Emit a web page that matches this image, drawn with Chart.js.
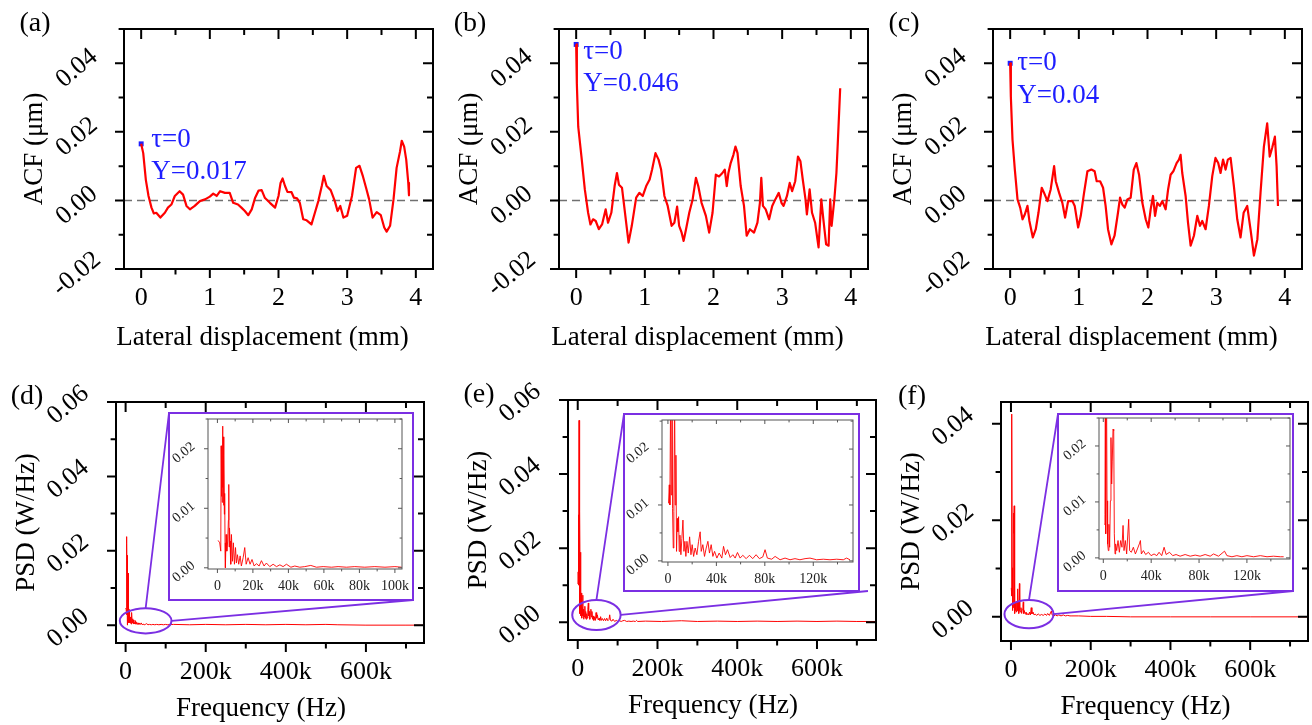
<!DOCTYPE html>
<html lang="en">
<head>
<meta charset="UTF-8">
<title>ACF and PSD of the surface profiles</title>
<script src="https://cdn.jsdelivr.net/npm/chart.js"></script>
<style>
  html, body { margin: 0; padding: 0; background: #fff; overflow: hidden; }
  #figure { position: relative; width: 1312px; height: 725px; }
  #figure canvas { position: absolute; }
  .zoombox { position: absolute; box-sizing: border-box; border: 2px solid #7b2fe3; background: #fff; }
</style>
</head>
<body>
<div id="figure"></div>
<script>
// ---- ACF curves (lateral displacement in mm, ACF in um) ----
const dispA = [0,0.03,0.068,0.107,0.15,0.185,0.22,0.28,0.345,0.39,0.44,0.49,0.56,0.61,0.66,0.71,0.78,0.855,0.93,1.0,1.05,1.1,1.15,1.22,1.29,1.34,1.41,1.46,1.51,1.56,1.61,1.66,1.71,1.755,1.8,1.875,1.95,2.0,2.03,2.06,2.095,2.13,2.19,2.225,2.27,2.31,2.36,2.41,2.48,2.53,2.58,2.63,2.66,2.7,2.76,2.82,2.86,2.9,2.945,3.0,3.07,3.13,3.18,3.23,3.275,3.32,3.37,3.43,3.49,3.54,3.575,3.625,3.675,3.72,3.77,3.795,3.83,3.86,3.89,3.9];
const acfA = [0.0165,0.0138,0.006,0.0013,-0.0021,-0.0038,-0.0036,-0.005,-0.0036,-0.0021,-0.0012,0.0013,0.0027,0.0017,-0.0016,-0.0026,-0.0016,-0.0002,0.0003,0.0011,0.002,0.0013,0.0027,0.0022,0.0022,-0.0007,-0.0012,-0.0021,-0.0031,-0.0043,-0.0026,0.0008,0.0029,0.003,0.0008,-0.0007,-0.0021,0.0013,0.0051,0.0064,0.0042,0.0025,0.0024,0.0008,0.0006,-0.0007,-0.0055,-0.0058,-0.007,-0.0036,-0.0002,0.0042,0.0072,0.0042,0.003,-0.0002,-0.0031,-0.0016,-0.005,-0.0045,0.0013,0.0095,0.0101,0.007,0.0037,0.0003,-0.005,-0.0034,-0.0043,-0.0079,-0.0091,-0.0074,0.0003,0.0095,0.0143,0.0174,0.0157,0.0119,0.0051,0.0015];

const dispB = [0,0.01,0.03,0.077,0.126,0.174,0.208,0.246,0.285,0.33,0.377,0.43,0.464,0.512,0.56,0.594,0.623,0.667,0.705,0.763,0.81,0.874,0.92,0.97,1.02,1.07,1.106,1.155,1.2,1.237,1.285,1.333,1.39,1.43,1.47,1.5,1.536,1.565,1.6,1.647,1.696,1.744,1.778,1.826,1.889,1.937,1.986,2.034,2.08,2.13,2.164,2.193,2.217,2.25,2.29,2.32,2.35,2.396,2.444,2.483,2.53,2.59,2.64,2.676,2.696,2.72,2.76,2.81,2.855,2.9,2.95,2.99,3.02,3.07,3.11,3.145,3.19,3.23,3.266,3.3,3.34,3.36,3.4,3.435,3.48,3.53,3.57,3.6,3.64,3.676,3.7,3.72,3.76,3.79,3.81,3.845];
const acfB = [0.0455,0.034,0.0215,0.0128,0.0032,-0.0036,-0.007,-0.0055,-0.006,-0.0084,-0.007,-0.0026,-0.0065,-0.0036,0.0042,0.008,0.0046,0.0037,-0.0026,-0.0123,-0.0074,0.0008,0.0022,0.0013,0.0042,0.0061,0.009,0.0138,0.0119,0.009,0.0013,-0.0016,-0.0074,-0.0065,-0.0018,-0.0074,-0.0094,-0.0118,-0.0084,-0.0036,0.0003,0.0066,0.0042,-0.0007,-0.0045,-0.0094,-0.0036,0.0075,0.007,0.008,0.009,0.0042,0.008,0.0109,0.0133,0.0157,0.0138,0.0042,-0.0016,-0.0103,-0.0084,-0.0094,-0.0065,-0.0007,0.0066,-0.0016,-0.0026,-0.0055,-0.0016,0.0003,0.0022,-0.0007,-0.0016,0.0013,0.0051,0.0027,0.0056,0.0128,0.0114,0.0061,0.0003,-0.0041,0.0032,-0.0036,-0.0065,-0.0137,0.0003,-0.0055,-0.0128,-0.0132,0.0003,-0.0074,0.0003,0.008,0.0167,0.0327];

const dispC = [0,0.01,0.034,0.068,0.107,0.146,0.18,0.213,0.252,0.28,0.33,0.373,0.412,0.46,0.494,0.543,0.59,0.64,0.664,0.713,0.76,0.8,0.844,0.907,0.94,0.99,1.028,1.076,1.125,1.183,1.23,1.26,1.31,1.353,1.39,1.425,1.474,1.52,1.57,1.6,1.634,1.668,1.707,1.755,1.8,1.838,1.877,1.925,1.974,2.012,2.046,2.08,2.11,2.143,2.18,2.216,2.264,2.3,2.337,2.376,2.424,2.458,2.482,2.506,2.555,2.59,2.628,2.676,2.725,2.764,2.797,2.846,2.894,2.943,2.99,3.03,3.064,3.1,3.137,3.17,3.21,3.258,3.307,3.355,3.4,3.452,3.5,3.55,3.6,3.646,3.695,3.743,3.78,3.815,3.855,3.88,3.9];
const acfC = [0.04,0.0302,0.0177,0.009,0.0003,-0.0021,-0.0055,-0.0041,-0.0016,-0.006,-0.0108,-0.0084,-0.0036,0.0037,0.0022,-0.0002,0.0032,0.01,0.0056,0.0022,-0.0007,-0.005,-0.0002,-0.0002,-0.0016,-0.0079,-0.0045,0.0022,0.0085,0.009,0.0085,0.0056,0.0056,0.0037,-0.0016,-0.0084,-0.0128,-0.0103,-0.0036,0.0008,-0.0012,-0.0021,0.0003,0.0008,0.009,0.0109,0.0075,-0.0007,-0.0055,-0.0079,-0.0026,0.0013,-0.0045,-0.0007,-0.0016,-0.0002,-0.0026,0.0032,0.0075,0.0085,0.0109,0.0119,0.0133,0.008,0.0013,-0.0065,-0.0132,-0.0103,-0.0045,-0.0074,-0.006,-0.0084,-0.0016,0.0071,0.0124,0.0109,0.008,0.0119,0.009,0.0119,0.0124,0.0042,-0.0055,-0.0108,-0.0036,-0.0016,-0.0084,-0.0161,-0.0113,0.0022,0.0157,0.0225,0.0128,0.0153,0.0186,0.01,-0.0016];

const peakLabels = [['τ=0', 'Y=0.017'], ['τ=0', 'Y=0.046'], ['τ=0', 'Y=0.04']];

// ---- PSD spectra (frequency in kHz, PSD in W/Hz) ----
const freqD = [0.4,1.3,1.9,2.1,2.3,2.5,2.7,2.9,3.1,3.3,3.5,3.7,3.9,4.1,4.3,4.5,4.9,5.3,5.8,6.2,6.4,6.6,6.8,7.1,7.5,7.9,8.5,9,9.6,10.2,10.7,11.3,12,12.8,13.5,14.5,15.4,16.2,17.3,18.4,19.5,20.7,22,23.5,24.8,26.3,27.6,29.5,31.4,33.3,35.2,37,38.9,41.4,43.6,46.4,49.2,52.6,55.8,59.6,64.3,68,72.7,77.4,83,88.7,94.4,100,103.8];
const psdD = [0.0046,0.0042,0.0028,0.0205,0.012,0.019,0.011,0.0238,0.0135,0.022,0.0105,0.0188,0.009,0.0125,0.0042,0,0.0056,0.0028,0.0045,0.008,0.014,0.0035,0.0067,0.0045,0.0006,0.0056,0.0011,0.0042,0.0006,0.0034,0.0008,0.0022,0.0006,0.002,0.0003,0.0017,0.0034,0.0006,0.0017,0.0006,0.0014,0.0003,0.0007,0.0003,0.0012,0.0003,0.0008,0.0002,0.0006,0.0002,0.0005,0.0002,0.0006,0.0001,0.0003,0.0001,0.0002,0.0004,0.0001,0.0002,0.0001,0.0002,0.0001,0.0002,0.0001,0.0002,0.0001,0.0002,0.0001];
const freqTailD = [120,160,200,250,300,350,400,450,500,530,600,700,745];
const psdTailD = [0.0002,0.0001,0.0002,0.0001,0.0002,0.0001,0.0002,0.0001,0.0002,0.0001,0,0,0];

const freqE = [0.5,1.1,1.6,2.2,2.7,3.3,3.8,4.4,4.9,5.5,6,6.6,7.1,7.7,8.2,8.8,9.3,9.9,10.7,11.5,12.4,13.2,14,14.8,15.7,16.8,17.9,19,20,21.2,22.5,23.9,25.3,26.6,27.5,28.8,30.2,31.6,33,34.3,35.7,37.1,38.5,40.4,42.3,44.5,45.9,47.5,49.2,51.4,53.6,55.5,57.4,59.6,61.8,64.6,67.3,70,72.8,75.5,78.3,80.2,82.1,85.7,88.5,92.6,96.7,100.8,104.9,109,113.2,117.3,122.8,128.3,133.8,139.3,144.8,147.5,150.3];
const psdE = [0.0103,0.0136,0.01,0.029,0.0118,0.0545,0.0094,0.0023,0.0088,0.03,0.01,0.0189,0.0017,0.0076,0.0052,0.0079,0.0017,0.0046,0.0011,0.004,0.0073,0.0017,0.0035,0.0008,0.0035,0.0014,0.0043,0.0011,0.0029,0.0008,0.0023,0.0011,0.0035,0.0052,0.0017,0.0029,0.0008,0.0023,0.0035,0.0014,0.0029,0.0008,0.0017,0.0005,0.0014,0.0005,0.0026,0.0011,0.002,0.0006,0.0011,0.0005,0.0015,0.0005,0.001,0.0004,0.001,0.0004,0.0011,0.0004,0.0007,0.002,0.0005,0.0003,0.0008,0.0002,0.0005,0.0002,0.0004,0.0002,0.0004,0.0005,0.0002,0.0003,0.0002,0.0003,0.0002,0.0005,0.0002];
const freqTailE = [170,210,260,300,350,400,450,500,550,600,650,700,748];
const psdTailE = [0.0003,0.0002,0.0004,0.0002,0.0003,0.0002,0.0003,0.0002,0.0003,0.0002,0.0003,0.0002,0.0002];

const freqF = [0.8,1.4,1.7,2,2.5,3.1,3.6,4.2,4.7,5.3,5.9,6.4,7,7.5,8.1,8.7,9.2,9.8,10.3,11.2,12.3,13.4,14.5,15.6,16.5,17.3,18.4,19.5,21.2,22,23.4,25.1,26.8,28.5,30.1,31,31.8,33.5,35.4,37.7,39.9,42.4,44.7,46.6,48.8,50.8,52.5,55.3,58,60.8,64.2,68.4,72.6,76.8,80.9,85.1,89.3,92.1,96.3,101.3,103.3,107.5,111.6,115.8,120,125.6,131.2,136.8,142.3,147.9,150.7];
const psdF = [0.006,0.0078,0.037,0.0043,0.042,0.0102,0.0025,0.0013,0.006,0.0019,0.0102,0.0215,0.0132,0.0173,0.023,0.0227,0.0043,0.0007,0.0025,0.0013,0.0031,0.001,0.0031,0.0019,0.0058,0.0013,0.0031,0.0007,0.0069,0.0013,0.001,0.0019,0.0007,0.0016,0.0025,0.0031,0.0007,0.0013,0.0006,0.001,0.0004,0.0007,0.0004,0.001,0.0004,0.0019,0.0006,0.001,0.0004,0.0006,0.0003,0.0006,0.0003,0.0005,0.0003,0.0006,0.0003,0.0007,0.0003,0.0012,0.0004,0.0002,0.0004,0.0002,0.0004,0.0002,0.0004,0.0002,0.0003,0.0002,0.0002];
const freqTailF = [170,200,240,300,400,500,600,745];
const psdTailF = [0.0002,0.0001,0.0001,0,0,0,0,0];

// ---- look ----
const RED = '#ff0000', BLUE = '#1e1eff', PURPLE = '#7b2fe3';
const SERIF = "'Liberation Serif', 'Times New Roman', serif";
Chart.defaults.font.family = SERIF;
Chart.defaults.color = '#000';

const pts = (xs, ys) => xs.map((x, i) => ({x: x, y: ys[i]}));
const fmt2 = v => (Math.abs(v) < 1e-9 ? '0.00' : v.toFixed(2));
const fmtK = v => (Math.abs(v) < 1e-9 ? '0' : Math.round(v) + 'k');
const fmtInt = v => String(Math.round(v));

// ticks at whole multiples of the step inside the axis range
const stepTicks = step => s => {
  const out = [];
  for (let k = Math.ceil((s.min - 1e-9) / step); k * step <= s.max + 1e-9; k++) out.push({value: +(k * step).toFixed(6)});
  s.ticks = out;
};

const fig = document.getElementById('figure');
function addCanvas(left, top, w, h) {
  const c = document.createElement('canvas');
  c.width = w; c.height = h;
  c.style.left = left + 'px'; c.style.top = top + 'px';
  c.style.width = w + 'px'; c.style.height = h + 'px';
  fig.appendChild(c);
  return c;
}

// box + tick marks on all four sides, majors from the scale, minors every step
const framePlugin = {
  id: 'frame',
  afterDatasetsDraw(chart, args, o) {
    const {ctx, chartArea: a} = chart;
    const sx = chart.scales.x, sy = chart.scales.y;
    const marks = (scale, minor) => {
      const major = scale.ticks.map(t => t.value);
      const list = major.map(v => [v, true]);
      for (let k = Math.ceil((scale.min - 1e-9) / minor); k * minor <= scale.max + 1e-9; k++) {
        const v = k * minor;
        if (!major.some(m => Math.abs(m - v) < minor / 100)) list.push([v, false]);
      }
      return list;
    };
    ctx.save();
    ctx.strokeStyle = o.color;
    ctx.lineWidth = o.width;
    ctx.beginPath();
    marks(sx, o.xMinor).forEach(([v, big]) => {
      const p = sx.getPixelForValue(v), f = big ? 1 : 0.6;
      ctx.moveTo(p, a.bottom); ctx.lineTo(p, a.bottom + o.out * f);
      ctx.moveTo(p, a.top); ctx.lineTo(p, a.top + o.inn * f);
    });
    marks(sy, o.yMinor).forEach(([v, big]) => {
      const p = sy.getPixelForValue(v), f = big ? 1 : 0.6;
      ctx.moveTo(a.left, p); ctx.lineTo(a.left - o.out * f, p);
      ctx.moveTo(a.right, p); ctx.lineTo(a.right - o.inn * f, p);
    });
    ctx.stroke();
    ctx.strokeRect(a.left, a.top, a.right - a.left, a.bottom - a.top);
    ctx.restore();
  }
};

const zeroPlugin = {
  id: 'zero',
  beforeDatasetsDraw(chart, args, o) {
    if (!o.show) return;
    const {ctx, chartArea: a} = chart;
    const p = chart.scales.y.getPixelForValue(0);
    ctx.save();
    ctx.strokeStyle = '#707070';
    ctx.lineWidth = 1.5;
    ctx.setLineDash([8, 5]);
    ctx.beginPath(); ctx.moveTo(a.left, p); ctx.lineTo(a.right, p); ctx.stroke();
    ctx.restore();
  }
};

const notePlugin = {
  id: 'note',
  afterDatasetsDraw(chart, args, o) {
    if (!o.lines) return;
    const {ctx} = chart;
    const px = chart.scales.x.getPixelForValue(o.x), py = chart.scales.y.getPixelForValue(o.y);
    ctx.save();
    ctx.font = '27px ' + SERIF;
    ctx.fillStyle = BLUE;
    ctx.textAlign = 'left';
    ctx.textBaseline = 'middle';
    o.lines.forEach((t, i) => ctx.fillText(t, px + o.dx, py + o.dy[i]));
    ctx.restore();
  }
};

const captionPlugin = {
  id: 'captions',
  afterDraw(chart, args, o) {
    const {ctx, chartArea: a} = chart;
    (o.items || []).forEach(it => {
      const x = (it.ax === 'center' ? (a.left + a.right) / 2 : a.left) + it.dx;
      const y = (it.ay === 'bottom' ? a.bottom : a.top) + it.dy;
      ctx.save();
      ctx.font = it.size + 'px ' + SERIF;
      ctx.fillStyle = '#000';
      ctx.textAlign = 'center';
      ctx.textBaseline = 'middle';
      ctx.fillText(it.text, x, y);
      ctx.restore();
    });
  }
};

// ellipse round the low-frequency part + lines to the inset box
const zoomPlugin = {
  id: 'zoomMark',
  afterDatasetsDraw(chart, args, o) {
    if (!o.box) return;
    const {ctx} = chart;
    const sx = chart.scales.x, sy = chart.scales.y;
    const cx = sx.getPixelForValue(o.cx), cy = sy.getPixelForValue(o.cy);
    const rx = sx.getPixelForValue(o.cx + o.rx) - cx, ry = cy - sy.getPixelForValue(o.cy + o.ry);
    ctx.save();
    ctx.strokeStyle = PURPLE;
    ctx.lineWidth = 2;
    ctx.beginPath(); ctx.ellipse(cx, cy, rx, ry, 0, 0, Math.PI * 2); ctx.stroke();
    ctx.lineWidth = 1.8;
    ctx.beginPath();
    ctx.moveTo(cx, cy - ry); ctx.lineTo(o.box.l - o.origin[0], o.box.t - o.origin[1]);
    ctx.moveTo(cx + rx, cy); ctx.lineTo(o.box.r - o.origin[0] + (o.endDx || 0), o.box.b - o.origin[1]);
    ctx.stroke();
    ctx.restore();
  }
};

const noGrid = {display: false, drawTicks: false, tickLength: 0};

function scaleX(o) {
  return {
    type: 'linear', position: 'bottom', min: o.min, max: o.max,
    grid: noGrid, border: {display: false},
    afterBuildTicks: stepTicks(o.step),
    ticks: {autoSkip: false, maxRotation: 0, minRotation: 0,
            padding: o.pad, color: o.color || '#000', font: {size: o.size}, callback: o.fmt},
    afterFit(s) { s.height = o.h; s.paddingLeft = 0; s.paddingRight = 0; s.paddingTop = 0; s.paddingBottom = 0; }
  };
}
function scaleY(o) {
  return {
    type: 'linear', position: 'left', min: o.min, max: o.max,
    grid: noGrid, border: {display: false},
    afterBuildTicks: stepTicks(o.step),
    ticks: {autoSkip: false, minRotation: 40, maxRotation: 40,
            crossAlign: 'center', padding: o.pad, labelOffset: o.off, color: o.color || '#000',
            font: {size: o.size}, callback: fmt2},
    title: o.title ? {display: true, text: o.title, padding: 0, color: '#000', font: {size: 27}} : {display: false},
    afterFit(s) { s.width = o.w; s.paddingLeft = 0; s.paddingRight = 0; s.paddingTop = 0; s.paddingBottom = 0; }
  };
}

function baseOptions(pad, x, y, plug) {
  return {
    responsive: false, animation: false, devicePixelRatio: 1, events: [],
    layout: {padding: {left: 0, top: pad.t, right: pad.r, bottom: 0}},
    scales: {x: x, y: y},
    plugins: Object.assign({legend: {display: false}, tooltip: {enabled: false}}, plug)
  };
}

// ---- top row: ACF ----
function acfPanel(tag, plot, xs, ys, lines, note) {
  const yW = 105, xH = 85, padT = 24;
  const cv = addCanvas(plot.L - yW, plot.T - padT, yW + plot.R - plot.L + plot.padR, padT + plot.B - plot.T + xH);
  new Chart(cv, {
    type: 'line',
    data: {datasets: [
      {data: pts(xs, ys), borderColor: RED, borderWidth: 2.2, pointRadius: 0, tension: 0, borderJoinStyle: 'round'},
      {data: [{x: xs[0], y: ys[0]}], showLine: false, pointStyle: 'rect', pointRadius: 3.5,
       backgroundColor: BLUE, borderColor: BLUE, borderWidth: 0}
    ]},
    options: baseOptions({t: padT, r: plot.padR},
      scaleX({min: -0.25, max: 4.25, step: 1, pad: 14, size: 26, fmt: fmtInt, h: xH}),
      scaleY({min: -0.02, max: 0.05, step: 0.02, pad: 20, off: 5, size: 26, w: yW, title: 'ACF (μm)'}),
      {
        frame: {color: '#000', width: 2, out: 9, inn: 10, xMinor: 0.5, yMinor: 0.01},
        zero: {show: true},
        note: {x: xs[0], y: ys[0], lines: lines, dx: note.dx, dy: note.dy},
        captions: {items: [
          {text: tag, size: 28, ax: 'left', ay: 'top', dx: -89, dy: -5},
          {text: 'Lateral displacement (mm)', size: 27, ax: 'center', ay: 'bottom', dx: -16, dy: 69}
        ]}
      }),
    plugins: [zeroPlugin, framePlugin, notePlugin, captionPlugin]
  });
}

acfPanel('(a)', {L: 124, T: 29, R: 433, B: 269, padR: 10}, dispA, acfA, peakLabels[0], {dx: 10, dy: [-4, 28]});
acfPanel('(b)', {L: 559, T: 29, R: 868, B: 269, padR: 10}, dispB, acfB, peakLabels[1], {dx: 7, dy: [7, 39]});
acfPanel('(c)', {L: 993, T: 29, R: 1302, B: 269, padR: 8}, dispC, acfC, peakLabels[2], {dx: 7, dy: [0, 33]});

// ---- bottom row: PSD with zoomed insets ----
function psdPanel(tag, plot, xs, ys, ymax, box, mark) {
  const yW = 105, xH = 82, padT = 24;
  const left = plot.L - yW, top = plot.T - padT;
  const cv = addCanvas(left, top, yW + plot.R - plot.L + plot.padR, padT + plot.B - plot.T + xH);
  new Chart(cv, {
    type: 'line',
    data: {datasets: [{data: pts(xs, ys), borderColor: RED, borderWidth: 1, pointRadius: 0, tension: 0}]},
    options: baseOptions({t: padT, r: plot.padR},
      scaleX({min: plot.xmin, max: plot.xmax, step: 200, pad: 14, size: 26, fmt: fmtK, h: xH}),
      scaleY({min: plot.ymin, max: ymax, step: 0.02, pad: 25, off: 3, size: 26, w: yW, title: 'PSD (W/Hz)'}),
      {
        frame: {color: '#000', width: 2, out: 9, inn: 10, xMinor: 100, yMinor: 0.01},
        zoomMark: Object.assign({box: box, origin: [left, top]}, mark),
        captions: {items: [
          {text: tag, size: 28, ax: 'left', ay: 'top', dx: -89, dy: -5},
          {text: 'Frequency (Hz)', size: 27, ax: 'center', ay: 'bottom', dx: -9, dy: 66}
        ]}
      }),
    plugins: [framePlugin, zoomPlugin, captionPlugin]
  });
}

function insetPanel(plot, xs, ys, box) {
  const d = document.createElement('div');
  d.className = 'zoombox';
  d.style.left = (box.l - 1) + 'px'; d.style.top = (box.t - 1) + 'px';
  d.style.width = (box.r - box.l + 2) + 'px'; d.style.height = (box.b - box.t + 2) + 'px';
  fig.appendChild(d);
  const yW = 37, xH = 28, padT = 8;
  const cv = addCanvas(plot.L - yW, plot.T - padT, yW + plot.R - plot.L + plot.padR, padT + plot.B - plot.T + xH);
  new Chart(cv, {
    type: 'line',
    data: {datasets: [{data: pts(xs, ys), borderColor: 'rgba(255,0,0,0.9)', borderWidth: 1, pointRadius: 0, tension: 0}]},
    options: baseOptions({t: padT, r: plot.padR},
      scaleX({min: plot.xmin, max: plot.xmax, step: plot.step, pad: 9, size: 14, fmt: fmtK, h: xH, color: '#222'}),
      scaleY({min: -0.0002, max: plot.ymax, step: 0.01, pad: 12, off: 4, size: 14, w: yW, color: '#222'}),
      {frame: {color: '#555', width: 1, out: 4, inn: 4, xMinor: plot.minor, yMinor: 0.005}}),
    plugins: [framePlugin]
  });
}

const boxD = {l: 169, t: 413, r: 413, b: 600};
const boxE = {l: 624, t: 414, r: 859, b: 591};
const boxF = {l: 1058, t: 414, r: 1293, b: 591};

psdPanel('(d)', {L: 116, T: 402, R: 424, B: 643, padR: 6, xmin: -24, xmax: 745, ymin: -0.0048},
  freqD.concat(freqTailD), psdD.concat(psdTailD), 0.06, boxD,
  {cx: 50, cy: 0.00116, rx: 64.5, ry: 0.00338});
psdPanel('(e)', {L: 568, T: 400, R: 876, B: 640, padR: 6, xmin: -24.4, xmax: 748, ymin: -0.0048},
  freqE.concat(freqTailE), psdE.concat(psdTailE), 0.06, boxE,
  {cx: 46.9, cy: 0.00197, rx: 60.7, ry: 0.00405, endDx: 9});
psdPanel('(f)', {L: 1001, T: 402, R: 1308, B: 641, padR: 3, xmin: -25, xmax: 745, ymin: -0.005},
  freqF.concat(freqTailF), psdF.concat(psdTailF), 0.0445, boxF,
  {cx: 45.2, cy: 0.00056, rx: 61.5, ry: 0.00294});

insetPanel({L: 208, T: 419, R: 402, B: 569, padR: 10, xmin: -5.3, xmax: 104, step: 20, minor: 10, ymax: 0.025}, freqD, psdD, boxD);
insetPanel({L: 662, T: 420, R: 853, B: 562, padR: 8, xmin: -4.9, xmax: 152.8, step: 40, minor: 20, ymax: 0.0252}, freqE, psdE, boxE);
insetPanel({L: 1099, T: 418, R: 1290, B: 559, padR: 8, xmin: -3.6, xmax: 156, step: 40, minor: 20, ymax: 0.025}, freqF, psdF, boxF);
</script>
</body>
</html>
